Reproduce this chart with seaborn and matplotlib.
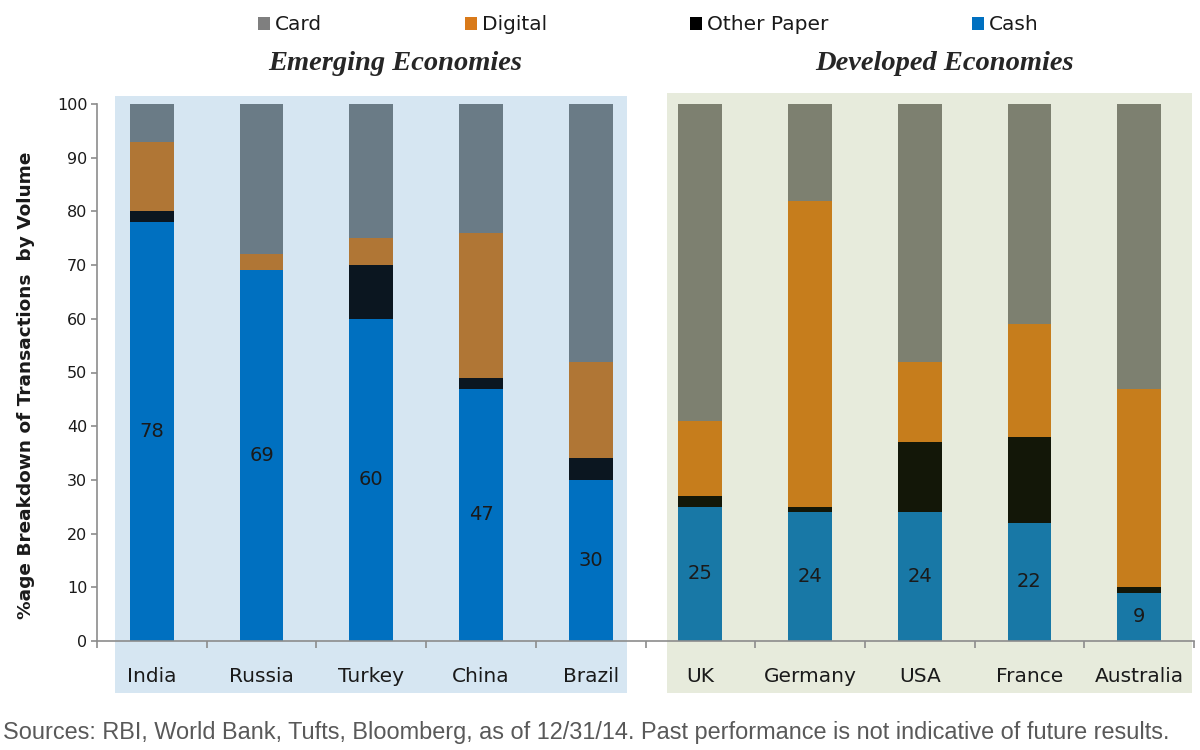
import matplotlib
matplotlib.use("Agg")
import matplotlib.pyplot as plt
from matplotlib.patches import Patch, Rectangle
import seaborn as sns
import pandas as pd
import numpy as np

# data (% of transactions by volume)
countries = ["India", "Russia", "Turkey", "China", "Brazil",
             "UK", "Germany", "USA", "France", "Australia"]
groups = ["Emerging"] * 5 + ["Developed"] * 5
cash = [78, 69, 60, 47, 30, 25, 24, 24, 22, 9]
other_paper = [2, 0, 10, 2, 4, 2, 1, 13, 16, 1]
digital = [13, 3, 5, 27, 18, 14, 57, 15, 21, 37]
card = [7, 28, 25, 24, 48, 59, 18, 48, 41.5, 53]

legend_labels = ["Card", "Digital", "Other Paper", "Cash"]
legend_colors = ["#7F7F7F", "#D97A1A", "#000000", "#0070C0"]

# colours per segment, per group
pal = {
    "card": {"Emerging": "#6A7B86", "Developed": "#7D8070"},
    "digital": {"Emerging": "#B07635", "Developed": "#C67D1C"},
    "other": {"Emerging": "#0B1620", "Developed": "#131708"},
    "cash": {"Emerging": "#0070C0", "Developed": "#1878A6"},
}

df = pd.DataFrame({"country": countries, "group": groups, "cash": cash,
                   "other": other_paper, "digital": digital, "card": card})
# cumulative tops so the bars can be overlaid back to front
df["top_cash"] = df["cash"]
df["top_other"] = df["top_cash"] + df["other"]
df["top_digital"] = df["top_other"] + df["digital"]
df["top_card"] = df["top_digital"] + df["card"]

sns.set_style("ticks")
plt.rcParams["font.family"] = ["DejaVu Sans"]

fig = plt.figure(figsize=(12, 7.5), dpi=100)
ax = fig.add_axes([97 / 1200, 1 - 641 / 750, (1194 - 97) / 1200, (641 - 104) / 750])

for seg in ["card", "digital", "other", "cash"]:
    sns.barplot(data=df, x="country", y="top_" + seg, hue="group",
                hue_order=["Emerging", "Developed"], palette=pal[seg],
                dodge=False, width=0.4, saturation=1, legend=False,
                linewidth=0, ax=ax)

# cash value labels
for i, v in enumerate(cash):
    ax.text(i, v / 2, str(v), ha="center", va="center", fontsize=14, color="#1A1A1A")

ax.set_xlim(-0.5, 9.5)
ax.set_ylim(0, 100)

# shaded group panels
ax.add_patch(Rectangle((-0.336, -9.7), 4.666, 111.2, facecolor="#D6E6F2",
                       edgecolor="none", clip_on=False, zorder=0))
ax.add_patch(Rectangle((4.70, -9.7), 4.78, 111.8, facecolor="#E7EBDC",
                       edgecolor="none", clip_on=False, zorder=0))

ax.set_xlabel("")
ax.set_ylabel("")
ax.set_xticks(range(10))
ax.set_xticklabels(countries)
ax.set_xticks(np.arange(-0.5, 10, 1), minor=True)
ax.tick_params(axis="x", which="major", length=0, pad=19, labelsize=14.5, labelcolor="#1A1A1A")
ax.tick_params(axis="x", which="minor", length=5, width=1.2, color="#8C8C8C")
ax.set_yticks(range(0, 101, 10))
ax.tick_params(axis="y", length=4, width=1.2, color="#8C8C8C", pad=3, labelsize=11.5, labelcolor="#1A1A1A")
sns.despine(ax=ax)
for s in ["left", "bottom"]:
    ax.spines[s].set_color("#8C8C8C")
    ax.spines[s].set_linewidth(1.2)

fig.text(26 / 1200, 1 - 385 / 750, "%age Breakdown of Transactions  by Volume",
         rotation=90, ha="center", va="center", fontsize=13.3, fontweight="bold", color="#1A1A1A")

for txt, xc in [("Emerging Economies", 395), ("Developed Economies", 945)]:
    fig.text(xc / 1200, 1 - 63 / 750, txt, ha="center", va="center",
             family="Liberation Serif", fontweight="bold", style="italic", fontsize=20.5)

handles = [Patch(facecolor=c, edgecolor="none") for c in legend_colors]
fig.legend(handles, legend_labels, loc="center", bbox_to_anchor=(648 / 1200, 1 - 25 / 750),
           ncol=4, frameon=False, fontsize=14.5, handlelength=0.6, handleheight=0.6,
           handletextpad=0.25, columnspacing=7.1, labelcolor="#1A1A1A")

fig.text(3 / 1200, 1 - 733 / 750,
         "Sources: RBI, World Bank, Tufts, Bloomberg, as of 12/31/14. Past performance is not indicative of future results.",
         ha="left", va="center", family="Liberation Sans", fontsize=16.9, color="#595959")

fig.savefig("out.png", dpi=100)
